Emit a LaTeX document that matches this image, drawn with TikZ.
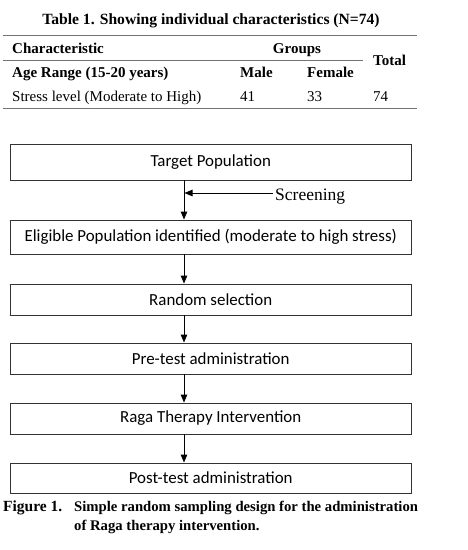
\documentclass[tikz,border=0pt]{standalone}
\usepackage{fontspec}
\setmainfont{Liberation Serif}
\newfontfamily\calibri{Carlito}
\usetikzlibrary{arrows.meta}
\begin{document}
\begin{tikzpicture}[x=1pt,y=-1pt,
  rulestyle/.style={line width=1.4pt,black!55},
  cell/.style={inner sep=0pt,anchor=base west,font=\fontsize{15}{17}\selectfont},
  bcell/.style={cell,font=\fontsize{15}{17}\selectfont\bfseries},
  flowbox/.style={draw=black!80,line width=0.9pt,minimum width=401.5pt,inner sep=0pt,font=\calibri\fontsize{16.9}{19}\selectfont},
  flowarrow/.style={line width=0.9pt,-{Triangle[length=8pt,width=6.5pt]}},
  capt/.style={inner sep=0pt,anchor=base west,font=\fontsize{14.7}{17}\selectfont\bfseries}]
\useasboundingbox (0,0) rectangle (468,550);
% table
\node[inner sep=0pt,anchor=base,font=\fontsize{15.6}{17}\selectfont\bfseries] (ttl) at (211,24) {Table 1. Showing individual characteristics (N=74)};
\coordinate (r1a) at (3,35.2); \coordinate (r1b) at (417,35.2);
\coordinate (r2a) at (3,60.5); \coordinate (r2b) at (363,60.5);
\coordinate (r3a) at (3,108.6); \coordinate (r3b) at (417,108.6);
\draw[rulestyle] (r1a) -- (r1b);
\draw[rulestyle] (r2a) -- (r2b);
\draw[rulestyle] (r3a) -- (r3b);
\node[bcell] (c11) at (12,53.3) {Characteristic};
\node[bcell,anchor=base] (c12) at (297,53.3) {Groups};
\node[bcell] (c13) at (373,65.5) {Total};
\node[bcell] (c21) at (12,77.5) {Age Range (15-20 years)};
\node[bcell] (c22) at (240,77.5) {Male};
\node[bcell] (c23) at (307,77.5) {Female};
\node[cell] (c31) at (12,101.7) {Stress level (Moderate to High)};
\node[cell] (c32) at (240,101.7) {41};
\node[cell] (c33) at (307,101.7) {33};
\node[cell] (c34) at (373,101.7) {74};
% flowchart
\node[flowbox,minimum height=36pt] (b1) at (210.7,162) {Target Population};
\node[flowbox,minimum height=34pt] (b2) at (210.7,237) {Eligible Population identified (moderate to high stress)};
\node[flowbox,minimum height=31pt] (b3) at (210.7,299.5) {Random selection};
\node[flowbox,minimum height=31pt] (b4) at (210.7,358.5) {Pre-test administration};
\node[flowbox,minimum height=31pt] (b5) at (210.7,418.5) {Raga Therapy Intervention};
\node[flowbox,minimum height=30pt] (b6) at (210.7,478) {Post-test administration};
\draw[flowarrow] (b1.south -| 184,0) -- (b2.north -| 184,0);
\draw[flowarrow] (b2.south -| 184,0) -- (b3.north -| 184,0);
\draw[flowarrow] (b3.south -| 184,0) -- (b4.north -| 184,0);
\draw[flowarrow] (b4.south -| 184,0) -- (b5.north -| 184,0);
\draw[flowarrow] (b5.south -| 184,0) -- (b6.north -| 184,0);
\coordinate (scrs) at (273,193);
\coordinate (scre) at (184.5,193);
\draw[flowarrow] (scrs) -- (scre);
\node[inner sep=0pt,anchor=base west,font=\fontsize{17.5}{20}\selectfont] (scr) at (275,200.5) {Screening};
% caption
\node[capt,font=\fontsize{15.5}{17}\selectfont\bfseries] (f1) at (3,511.7) {Figure 1.};
\node[capt] (f2) at (74,511.7) {Simple random sampling design for the administration};
\node[capt] (f3) at (74,530) {of Raga therapy intervention.};
\end{tikzpicture}
\end{document}
